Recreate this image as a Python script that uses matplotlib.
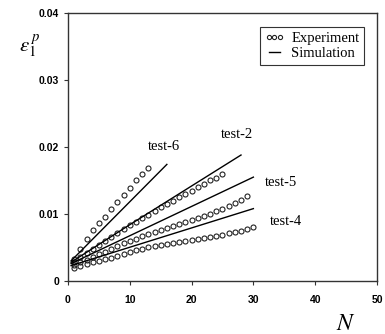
import numpy as np
import matplotlib
matplotlib.use('Agg')
import matplotlib.pyplot as plt
from matplotlib.lines import Line2D

'''plastic strain vs number of cycles, experiment and simulation'''

# experiment points (N, strain)
n_test6 = [1, 2, 3, 4, 5, 6, 7, 8, 9, 10, 11, 12, 13]
e_test6 = [0.0033, 0.0048, 0.0062, 0.0076, 0.0087, 0.0096, 0.0108, 0.0118,
           0.0128, 0.0139, 0.0150, 0.0159, 0.0168]

n_test2 = list(range(1, 26))
e_test2 = [0.0028, 0.0036, 0.0042, 0.0048, 0.0054, 0.0060, 0.0066, 0.0071,
           0.0077, 0.0083, 0.0088, 0.0094, 0.0099, 0.0105, 0.0110, 0.0115,
           0.0120, 0.0125, 0.0130, 0.0135, 0.0140, 0.0145, 0.0150, 0.0154,
           0.0159]

n_test5 = list(range(1, 30))
e_test5 = [0.0024, 0.0028, 0.0032, 0.0036, 0.0040, 0.0044, 0.0048, 0.0052,
           0.0056, 0.0060, 0.0063, 0.0067, 0.0070, 0.0073, 0.0076, 0.0079,
           0.0082, 0.0085, 0.0088, 0.0091, 0.0094, 0.0097, 0.0100, 0.0104,
           0.0108, 0.0112, 0.0116, 0.0121, 0.0127]

n_test4 = list(range(1, 31))
e_test4 = [0.0020, 0.0023, 0.0026, 0.0028, 0.0030, 0.0033, 0.0035, 0.0038,
           0.0041, 0.0044, 0.0046, 0.0048, 0.0050, 0.0052, 0.0054, 0.0055,
           0.0057, 0.0058, 0.0060, 0.0061, 0.0063, 0.0064, 0.0066, 0.0067,
           0.0069, 0.0071, 0.0073, 0.0075, 0.0077, 0.0080]

# simulation lines
sim_n6 = [0.5, 16]
sim_e6 = [0.0030, 0.0174]
sim_n2 = [0.5, 10, 28]
sim_e2 = [0.0028, 0.0084, 0.0188]
sim_n5 = [0.5, 30]
sim_e5 = [0.0026, 0.0155]
sim_n4 = [0.5, 30]
sim_e4 = [0.0023, 0.0108]

labels = ['test-6', 'test-2', 'test-5', 'test-4']
label_pos = [(12.9, 0.0200), (24.8, 0.0219), (31.8, 0.0147), (32.6, 0.0089)]

plt.rcParams['mathtext.fontset'] = 'stix'

fig = plt.figure(figsize=(3.85, 3.34), dpi=100)
ax = fig.add_axes([0.1766, 0.1587, 0.8025, 0.8025])

exp_sets = [(n_test6, e_test6), (n_test2, e_test2), (n_test5, e_test5), (n_test4, e_test4)]
sim_sets = [(sim_n6, sim_e6), (sim_n2, sim_e2), (sim_n5, sim_e5), (sim_n4, sim_e4)]

for n, e in exp_sets:
    ax.plot(n, e, 'o', mfc='none', mec='#222222', ms=3.6, mew=0.8)
for n, e in sim_sets:
    ax.plot(n, e, '-', color='black', lw=1.0)

for lab, (x, y) in zip(labels, label_pos):
    ax.text(x, y, lab, family='Liberation Serif', fontsize=10.5, ha='left', va='center')

ax.set_xlim(0, 50)
ax.set_ylim(0, 0.04)
ax.set_xticks([0, 10, 20, 30, 40, 50])
ax.set_yticks([0, 0.01, 0.02, 0.03, 0.04])
ax.set_yticklabels(['0', '0.01', '0.02', '0.03', '0.04'])
for lbl in ax.get_xticklabels() + ax.get_yticklabels():
    lbl.set_family('Liberation Sans')
    lbl.set_fontweight('bold')
    lbl.set_fontsize(7.5)
ax.tick_params(direction='out', length=3, width=0.8, color='#333333')
ax.tick_params(axis='x', pad=7)
ax.tick_params(axis='y', pad=3.5)
for sp in ax.spines.values():
    sp.set_linewidth(1.0)
    sp.set_color('#333333')

handles = [Line2D([], [], ls='none', marker='o', mfc='none', mec='#222222', ms=3.0, mew=0.8),
           Line2D([], [], ls='-', color='black', lw=1.0)]
leg = ax.legend(handles, ['Experiment', 'Simulation'], loc='upper right',
                bbox_to_anchor=(0.957, 0.946), numpoints=3, handlelength=1.4,
                handletextpad=0.45, borderpad=0.3, labelspacing=0.15,
                borderaxespad=0, prop={'family': 'Liberation Serif', 'size': 10.5},
                fancybox=False, framealpha=1, edgecolor='#333333')
leg.get_frame().set_linewidth(0.8)

fig.text(0.078, 0.862, r'$\varepsilon_1^{\,p}$', fontsize=15, ha='center', va='center')
fig.text(0.899, 0.033, r'$N$', fontsize=17, ha='center', va='center')

fig.savefig('out.png', dpi=100)
